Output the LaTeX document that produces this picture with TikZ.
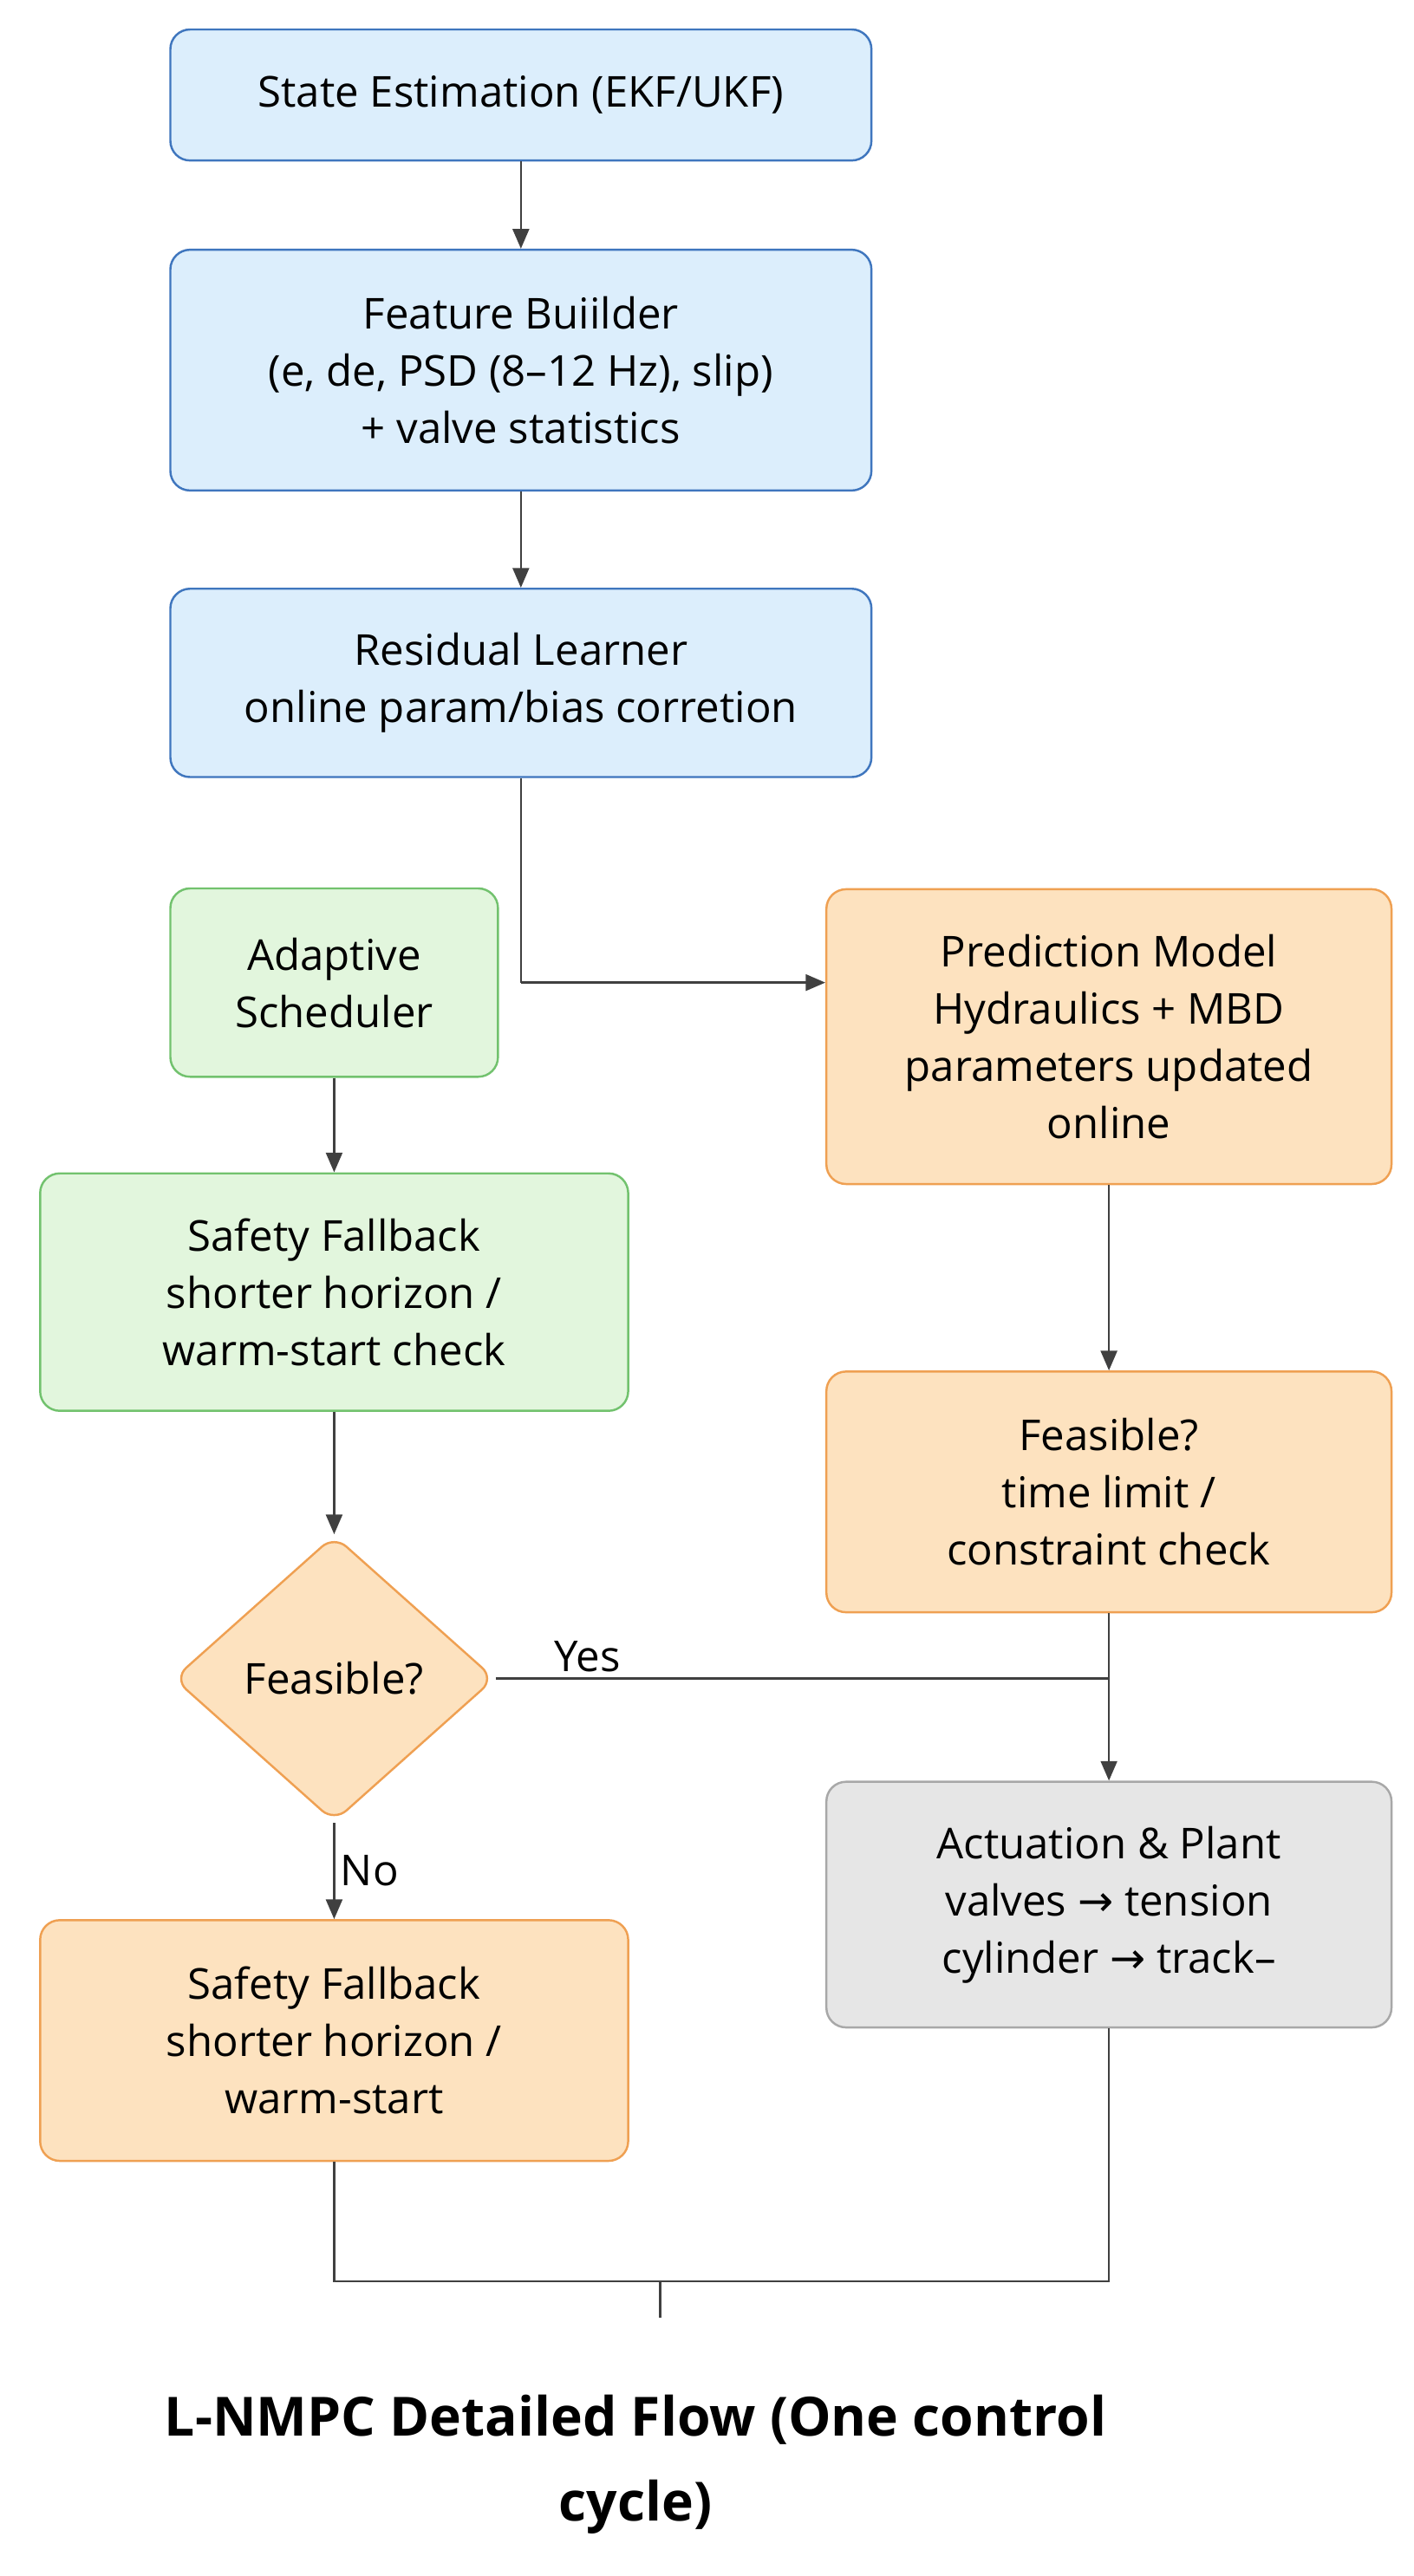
\documentclass[tikz,border=0pt]{standalone}
\usepackage{fontspec}
\setmainfont{Open Sans}
\newfontfamily\arfont{DejaVu Sans}
\usetikzlibrary{shapes.geometric,arrows.meta}
\definecolor{bF}{HTML}{DCEEFC}\definecolor{bD}{HTML}{3F76BE}
\definecolor{gF}{HTML}{E2F6DD}\definecolor{gD}{HTML}{72C26E}
\definecolor{oF}{HTML}{FDE2BF}\definecolor{oD}{HTML}{EFA052}
\definecolor{yF}{HTML}{E6E6E6}\definecolor{yD}{HTML}{A8A8A8}
\newcommand{\rarr}{{\arfont →}}
\begin{document}
\begin{tikzpicture}[x=1pt,y=-1pt,
  box/.style={draw,line width=1.3pt,rounded corners=12pt,align=center,inner sep=0pt,font=\fontsize{26}{35}\selectfont},
  blue/.style={box,fill=bF,draw=bD},green/.style={box,fill=gF,draw=gD},
  orange/.style={box,fill=oF,draw=oD},gray/.style={box,fill=yF,draw=yD},
  ar/.style={draw=black!75,line width=1.3pt,-{Triangle[length=12pt,width=10pt]}},
  ln/.style={draw=black!75,line width=1.3pt}]
\useasboundingbox[fill=white] (0,0) rectangle (863,1573);
\node[blue,minimum width=428,minimum height=80] (se) at (318,58) {State Estimation (EKF/UKF)};
\node[blue,minimum width=428,minimum height=147] (fb) at (318,226) {Feature Buiilder\\(e, de, PSD (8–12 Hz), slip)\\+ valve statistics};
\node[blue,minimum width=428,minimum height=115] (rl) at (318,417) {Residual Learner\\online param/bias corretion};
\node[green,minimum width=200,minimum height=115] (as) at (204,600) {Adaptive\\Scheduler};
\node[orange,minimum width=345,minimum height=180] (pm) at (677,633) {Prediction Model\\Hydraulics + MBD\\parameters updated\\online};
\node[green,minimum width=359,minimum height=145] (sf) at (204,789) {Safety Fallback\\shorter horizon /\\warm-start check};
\node[orange,minimum width=345,minimum height=147] (fe) at (677,911) {Feasible?\\time limit /\\constraint check};
\node[diamond,draw=oD,fill=oF,line width=1.3pt,minimum width=196,minimum height=175,inner sep=0pt,rounded corners=10pt,font=\fontsize{26}{32}\selectfont] (di) at (204,1025) {Feasible?};
\node[gray,minimum width=345,minimum height=150] (ap) at (677,1163) {Actuation \& Plant\\valves \rarr{} tension\\cylinder \rarr{} track–};
\node[orange,minimum width=359,minimum height=147] (so) at (204,1246) {Safety Fallback\\shorter horizon /\\warm-start};
\draw[ar] (se.south) -- (fb.north);
\draw[ar] (fb.south) -- (rl.north);
\coordinate (j) at (318,600);
\draw[ln] (rl.south) -- (j);
\draw[ar] (j) -- (j-|pm.west);
\draw[ar] (as.south) -- (sf.north);
\draw[ar] (sf.south) -- (di.north);
\draw[ar] (pm.south) -- (fe.north);
\draw[ar] (fe.south) -- (ap.north);
\coordinate (y) at (677,1025);
\draw[ln] (di.east) -- node[above,pos=0.15,font=\fontsize{26}{30}\selectfont]{Yes} (y);
\draw[ar] (di.south) -- node[right,font=\fontsize{26}{30}\selectfont]{No} (so.north);
\coordinate (b1) at (204,1393); \coordinate (b2) at (677,1393);
\coordinate (t1) at (403,1393); \coordinate (t2) at (403,1415);
\draw[ln] (so.south) -- (b1) -- (b2) -- (ap.south);
\draw[ln] (t1) -- (t2);
\node[font=\bfseries\fontsize{33}{52}\selectfont,align=center] (ti) at (388,1505) {L-NMPC Detailed Flow (One control\\cycle)};
\end{tikzpicture}
\end{document}
